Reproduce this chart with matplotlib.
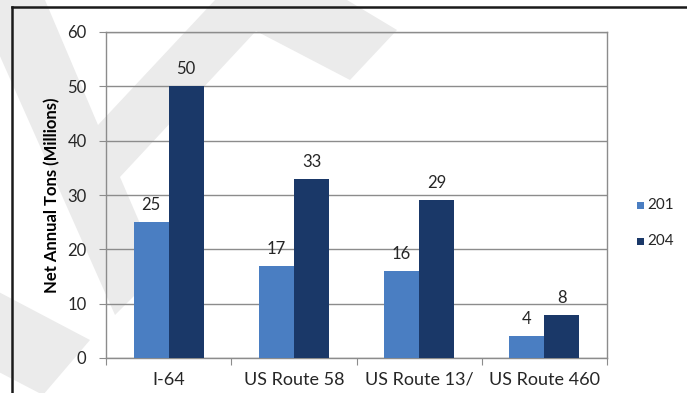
import matplotlib
matplotlib.use("Agg")
import matplotlib.pyplot as plt
from matplotlib.patches import Polygon, Rectangle
from matplotlib.lines import Line2D
import numpy as np

categories = ["I-64", "US Route 58", "US Route 13/", "US Route 460"]
series_names = ["201", "204"]
values_2010 = [25, 17, 16, 4]
values_2040 = [50, 33, 29, 8]
y_ticks = [0, 10, 20, 30, 40, 50, 60]

light = "#4a7ec2"
dark = "#1a3868"
grid_c = "#8c8c8c"
txt_c = "#262626"

plt.rcParams["font.family"] = ["Lato", "DejaVu Sans"]

W, H = 687, 393
fig = plt.figure(figsize=(W / 100, H / 100), dpi=100)
fig.patch.set_facecolor("white")

def fx(x):
    return x / W

def fy(y):
    return 1 - y / H

# background layer with the faint watermark shapes
bg = fig.add_axes([0, 0, 1, 1], zorder=-1)
bg.set_xlim(0, W)
bg.set_ylim(H, 0)
bg.axis("off")
wm = [
    [(-25, 0), (45, 0), (98, 125), (215, 0), (347, 0), (397, 30), (350, 80),
     (256, 31), (120, 177), (160, 270), (115, 315)],
    [(-5, 290), (90, 340), (43, 395), (-5, 370)],
]
for poly in wm:
    bg.add_patch(Polygon(poly, closed=True, facecolor="#ebebeb", edgecolor="none"))

L, R, T, B = 106, 607, 32, 358
ax = fig.add_axes([fx(L), fy(B), fx(R) - fx(L), fy(T) - fy(B)])
ax.patch.set_alpha(0)

x = np.arange(len(categories))
bw = 0.28
ax.bar(x - bw / 2, values_2010, bw, color=light, zorder=3, label=series_names[0])
ax.bar(x + bw / 2, values_2040, bw, color=dark, zorder=3, label=series_names[1])

for xi, v in zip(x - bw / 2, values_2010):
    ax.annotate(str(v), (xi, v), xytext=(0, 6.5), textcoords="offset points",
                ha="center", va="bottom", fontsize=12, color=txt_c)
for xi, v in zip(x + bw / 2, values_2040):
    ax.annotate(str(v), (xi, v), xytext=(0, 6.5), textcoords="offset points",
                ha="center", va="bottom", fontsize=12, color=txt_c)

ax.set_xlim(-0.5, len(categories) - 0.5)
ax.set_ylim(0, 60)
ax.set_yticks(y_ticks)
ax.set_yticklabels([str(t) for t in y_ticks], fontsize=12, color=txt_c)
ax.yaxis.grid(True, color=grid_c, linewidth=1.0, zorder=0)
ax.set_axisbelow(True)

ax.set_xticks(np.arange(-0.5, len(categories) + 0.5, 1.0))
ax.set_xticklabels([])
ax.set_xticks(x, minor=True)
ax.set_xticklabels(categories, minor=True, fontsize=13, color=txt_c)
ax.tick_params(axis="x", which="major", length=5, color=grid_c, direction="out")
ax.tick_params(axis="x", which="minor", length=0, pad=10)
ax.tick_params(axis="y", length=5, color=grid_c, pad=9)

for s in ax.spines.values():
    s.set_color(grid_c)
    s.set_linewidth(1.0)

ax.set_ylabel("Net Annual Tons (Millions)", fontsize=12, fontweight="bold",
              color="black", labelpad=5)

# legend (cut off by the image edge as in the reference)
for yy, c, name in [(205, light, series_names[0]), (241, dark, series_names[1])]:
    fig.add_artist(Rectangle((fx(637), fy(yy + 4)), 7 / W, 7 / H,
                             transform=fig.transFigure, facecolor=c, edgecolor="none"))
    fig.text(fx(647), fy(yy), name, fontsize=11, color=txt_c, va="center", ha="left")

# outer frame
fig.add_artist(Line2D([fx(12), fx(W + 5)], [fy(7), fy(7)], color="#1a1a1a", lw=1.8,
                      transform=fig.transFigure))
fig.add_artist(Line2D([fx(12), fx(12)], [fy(7), fy(H + 5)], color="#1a1a1a", lw=1.8,
                      transform=fig.transFigure))

fig.savefig("out.png", dpi=100)
